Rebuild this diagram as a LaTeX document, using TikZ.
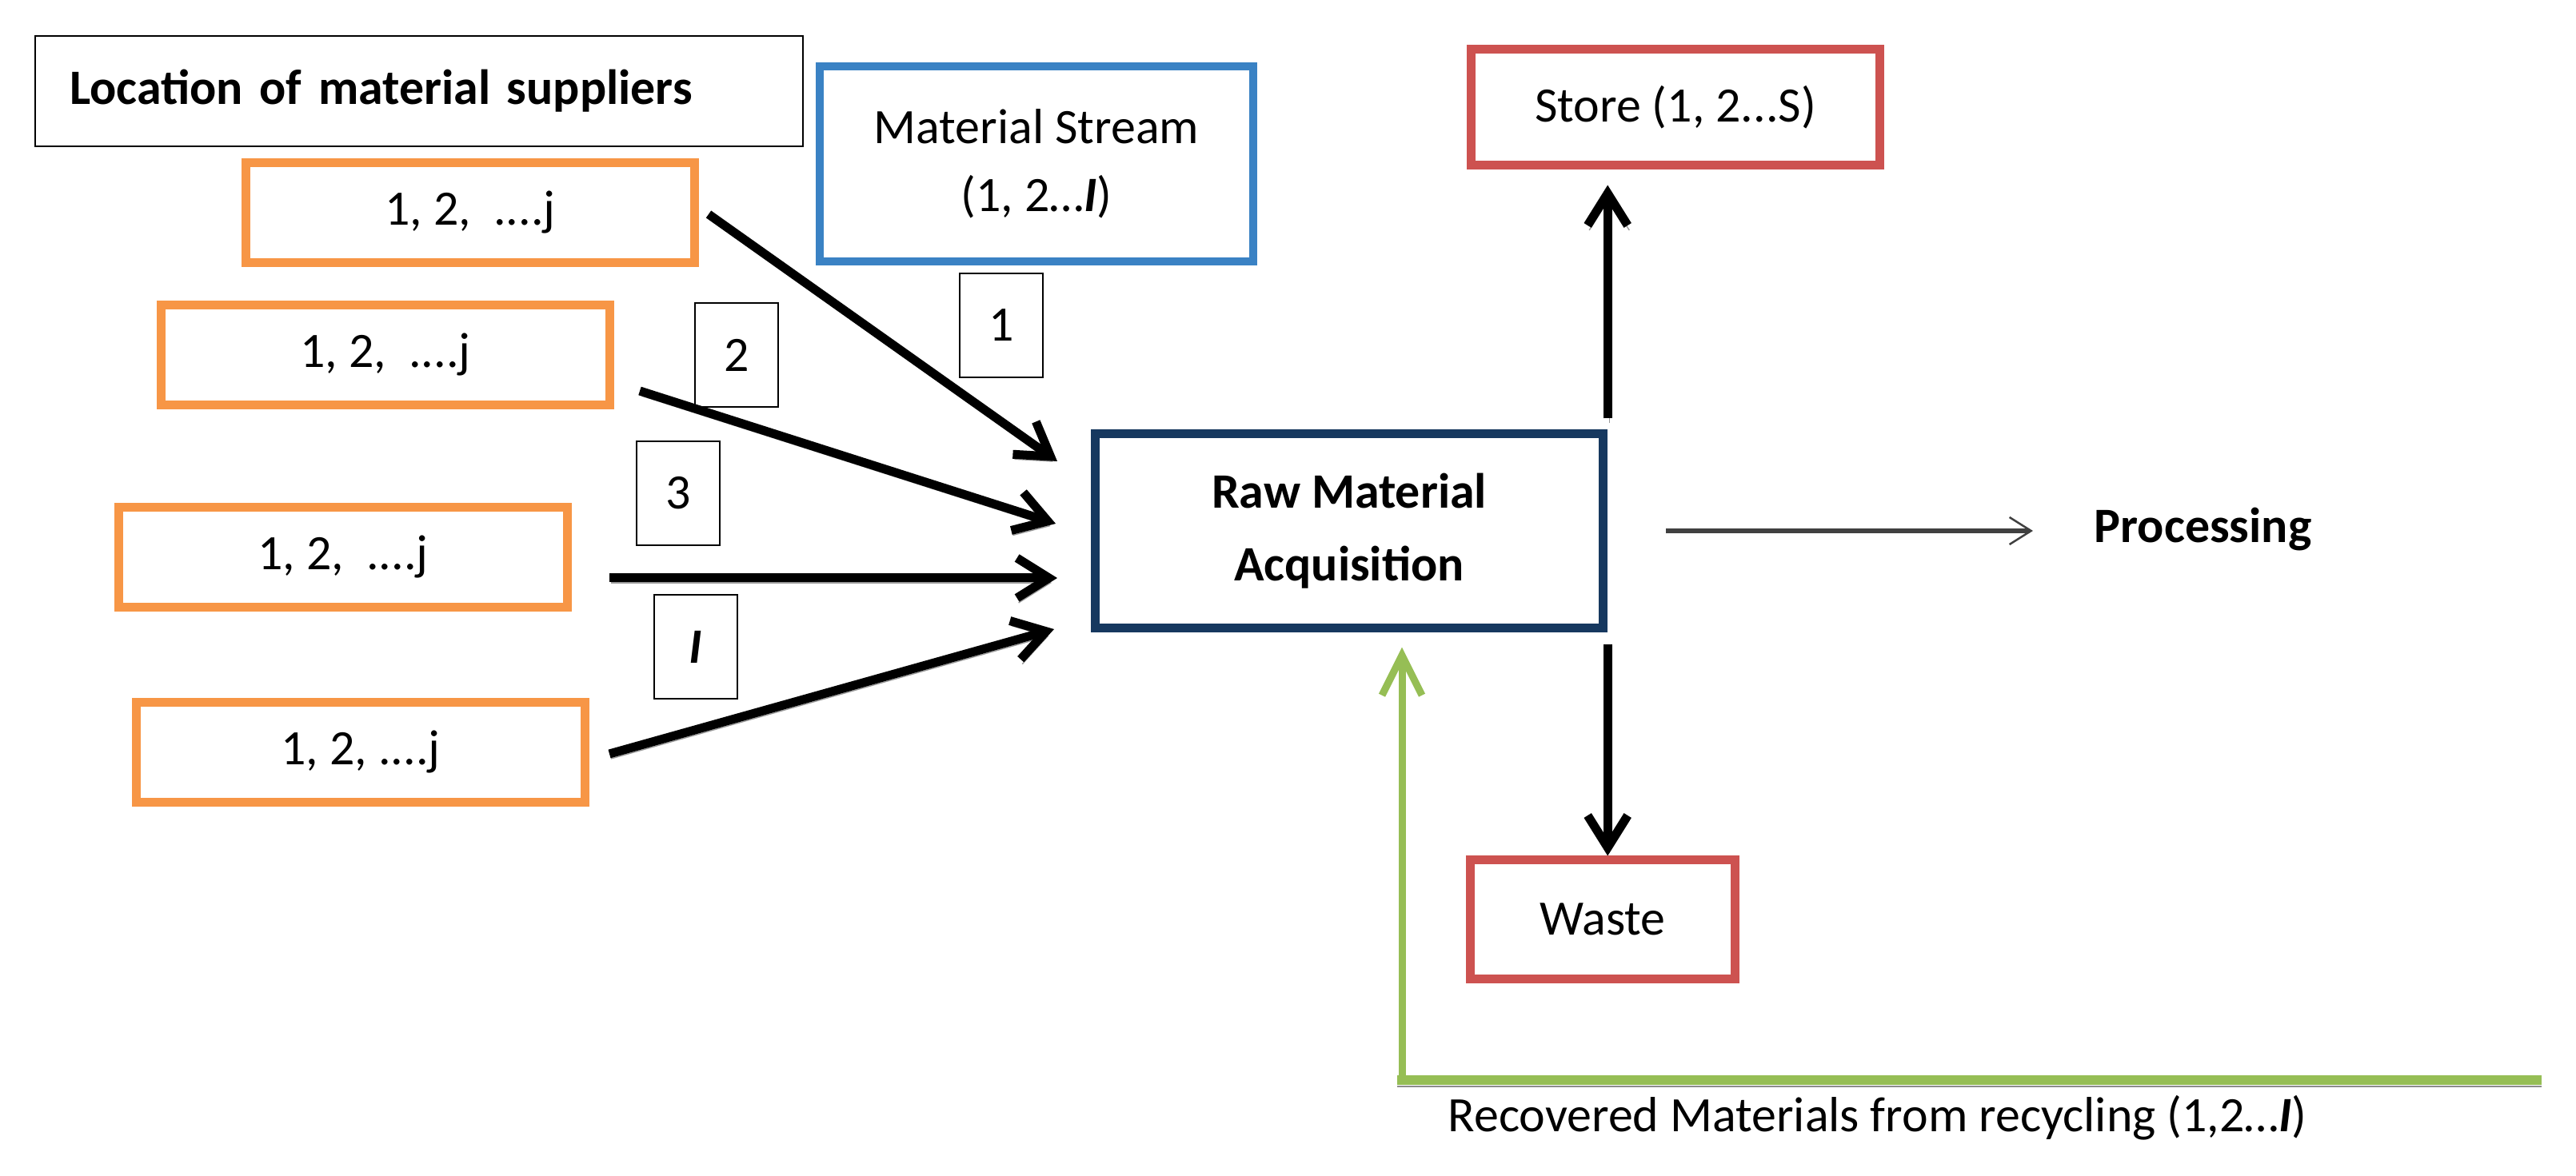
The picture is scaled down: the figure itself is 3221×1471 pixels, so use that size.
\documentclass[tikz,border=0pt]{standalone}
\usepackage{fontspec}
\setmainfont{Carlito}
\usetikzlibrary{positioning,arrows.meta}

\definecolor{suporange}{RGB}{247,150,70}
\definecolor{streamblue}{RGB}{58,130,196}
\definecolor{rmanavy}{RGB}{22,56,95}
\definecolor{storered}{RGB}{205,82,80}
\definecolor{recgreen}{RGB}{150,190,85}
\definecolor{procgray}{RGB}{64,64,64}

\begin{document}
\begin{tikzpicture}[x=0.01cm, y=-0.01cm,
  every node/.style={font=\fontsize{17.6}{23}\selectfont},
  supbox/.style={draw=suporange, line width=0.11cm, minimum width=5.6cm, minimum height=1.25cm},
  tagbox/.style={draw, line width=0.02cm, minimum width=1.03cm, minimum height=1.3cm},
  redbox/.style={draw=storered, line width=0.11cm},
  shade/.style={preaction={draw=black!40, transform canvas={shift={(2,6)}}}},
  flow/.style={line width=0.11cm, -{Straight Barb[length=0.4cm, width=0.5cm]}, shade}]
  \useasboundingbox (0,0) rectangle (3221,1471);
  \node[draw, line width=0.025cm, text width=8.73cm, align=left, inner xsep=0.43cm,
        minimum height=1.38cm] (loc) at (524,114) {\textbf{Location of material suppliers}};
  \node[supbox] (sup1) at (588,266) {1, 2,\ \ ....j};
  \node[supbox] (sup2) at (482,444) {1, 2,\ \ ....j};
  \node[supbox] (sup3) at (429,697) {1, 2,\ \ ....j};
  \node[supbox] (sup4) at (451,941) {1, 2, ....j};
  \node[draw=streamblue, line width=0.1cm, minimum width=5.41cm, minimum height=2.43cm,
        align=center, font=\fontsize{17.6}{24}\selectfont] (stream) at (1296,205)
        {Material Stream\\(1, 2…\textbf{\textit{I}})};
  \node[tagbox] (tag1) at (1252,407) {1};
  \node[tagbox] (tag2) at (921,444) {2};
  \node[tagbox] (tag3) at (848,617) {3};
  \node[tagbox] (tagI) at (870,809) {\textbf{\textit{I}}};
  \node[draw=rmanavy, line width=0.11cm, minimum width=6.35cm, minimum height=2.42cm,
        align=center, font=\fontsize{17.6}{26}\selectfont\bfseries] (rma) at (1687,664)
        {Raw Material\\Acquisition};
  \node[redbox, minimum width=5.11cm, minimum height=1.44cm] (store) at (2095,134) {Store (1, 2...S)};
  \node[redbox, minimum width=3.31cm, minimum height=1.48cm] (waste) at (2004,1150) {Waste};
  \node[inner sep=0, anchor=west, font=\fontsize{17.6}{23}\selectfont\bfseries] (proc) at (2618,662) {Processing};
  % supplier streams
  \coordinate (s1) at (886,268);  \coordinate (t1) at (1322,577);
  \coordinate (s2) at (800,489);  \coordinate (t2) at (1320,655);
  \coordinate (s3) at (762,723);  \coordinate (t3) at (1322,723);
  \coordinate (s4) at (762,943);  \coordinate (t4) at (1318,787);
  \foreach \i in {1,...,4}
    \draw[flow] (s\i) -- (t\i);
  \draw[flow, shorten <=0.14cm, shorten >=0.2cm] (rma.north east) -- (rma.north east |- store.south);
  \draw[flow, shorten <=0.15cm] (rma.south east) -- (rma.south east |- waste.north);
  \draw[procgray, line width=0.06cm, -{Straight Barb[length=0.27cm, width=0.34cm, line width=0.025cm]},
        shorten <=0.73cm, shorten >=0.76cm] (rma.east) -- (rma.east -| proc.west);
  % recycling loop
  \coordinate (recstart) at (1747,1351);
  \coordinate (recend) at (3178,1351);
  \coordinate (rec) at (1753,1351);
  \draw[recgreen, line width=0.12cm, preaction={draw=black!45, transform canvas={shift={(0,8)}}}] (recstart) -- (recend);
  \draw[recgreen, line width=0.09cm, -{Straight Barb[length=0.5cm, width=0.5cm]}, shorten >=0.19cm] (rec) -- (rec |- rma.south);
  \node[inner sep=0, anchor=west] (reclabel) at (1810,1398) {Recovered Materials from recycling (1,2…\textbf{\textit{I}})};
\end{tikzpicture}
\end{document}
